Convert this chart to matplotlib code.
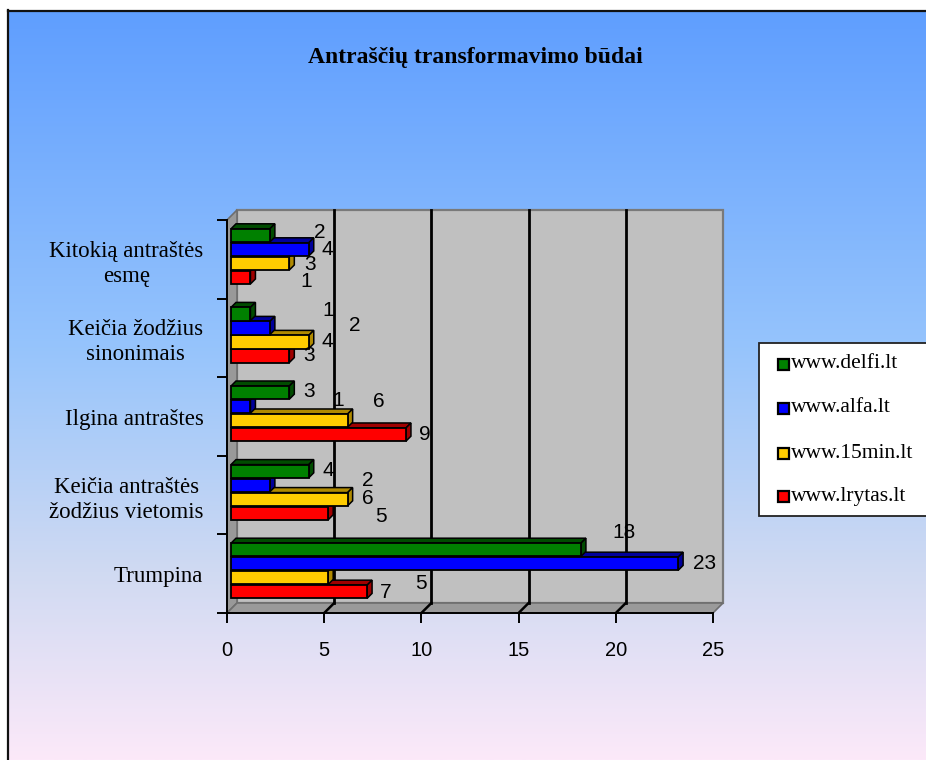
import numpy as np
import matplotlib
matplotlib.use("Agg")
import matplotlib.pyplot as plt
from matplotlib.patches import Rectangle, Polygon

# ---------------- data ----------------
categories = ["Kitokią antraštės\nesmę", "Keičia žodžius\nsinonimais", "Ilgina antraštes",
              "Keičia antraštės\nžodžius vietomis", "Trumpina"]          # top -> bottom
series_names = ["www.delfi.lt", "www.alfa.lt", "www.15min.lt", "www.lrytas.lt"]
delfi = [2, 1, 3, 4, 18]
alfa = [4, 2, 1, 2, 23]
min15 = [3, 4, 6, 6, 5]
lrytas = [1, 3, 9, 5, 7]
x_ticks = [0, 5, 10, 15, 20, 25]
title = "Antraščių transformavimo būdai"

# ---------------- style / layout ----------------
face_cols = ["#008000", "#0000FF", "#FFCC00", "#FF0000"]
dark_cols = ["#004C00", "#00009A", "#B08A00", "#A00000"]
# label nudges (pixels, dx, dy-down) mimicking the original data label placement
label_nudge = [
    [(30, -3), (58, -4), (0, -1), (0, -1), (23, -17)],   # delfi
    [(-1, 0), (65, -2), (68, -6), (78, -5), (6, 0)],      # alfa
    [(1, 1), (-1, 0), (11, -19), (0, -1), (73, 6)],       # 15min
    [(36, 4), (0, 0), (-1, 0), (33, 3), (-1, 1)],         # lrytas
]
SERIF = ["Liberation Serif", "DejaVu Serif"]
SANS = ["Liberation Sans", "DejaVu Sans"]

W, H, DPI = 926, 760, 100
fig = plt.figure(figsize=(W / DPI, H / DPI), dpi=DPI)
fig.patch.set_facecolor("white")

# background (gradient chart area) in pixel-like coordinates
bg = fig.add_axes([0, 0, 1, 1], zorder=-10)
stops_t = np.array([0.0, 0.45, 0.75, 1.0])
stops_c = np.array([[95, 158, 255], [150, 196, 252], [208, 218, 242], [252, 233, 249]]) / 255
t = np.linspace(0, 1, 400)
grad = np.stack([np.interp(t, stops_t, stops_c[:, c]) for c in range(3)], axis=-1)[:, None, :]
bg.imshow(grad, extent=[8, W + 5, H, 10.5], aspect="auto", interpolation="bilinear")
bg.plot([8, 8], [10, H], color="#111111", lw=1.6)
bg.plot([8, W], [10.5, 10.5], color="#111111", lw=1.6)
bg.set_xlim(0, W)
bg.set_ylim(H, 0)
bg.axis("off")

bg.text(475, 57, title, ha="center", va="center", fontsize=17, fontweight="bold",
        family=SERIF, color="black")

# legend (manual, like the original box that runs off the right edge)
bg.add_patch(Rectangle((759, 343), 200, 173, facecolor="white", edgecolor="#222222", lw=1.3))
leg_y = [364, 408, 453, 496]
for name, fc, yy in zip(series_names, face_cols, leg_y):
    bg.add_patch(Rectangle((778, yy - 5.5), 11, 11, facecolor=fc, edgecolor="black", lw=1.6))
    bg.text(791, yy, name, ha="left", va="center", fontsize=15.5, family=SERIF, color="black")

# ---------------- main axes (front plane) ----------------
x0p, x1p, y0p, y1p = 227, 713, 613, 220
ax = fig.add_axes([x0p / W, 1 - y0p / H, (x1p - x0p) / W, (y0p - y1p) / H])
xmax, ncat = 25, len(categories)
ax.set_xlim(0, xmax)
ax.set_ylim(0, ncat)
ax.patch.set_visible(False)
ux = xmax / (x1p - x0p)
uy = ncat / (y0p - y1p)

# walls
dw_x, dw_y = 10 * ux, 10 * uy
ax.add_patch(Rectangle((dw_x, dw_y), xmax, ncat, facecolor="#C0C0C0", edgecolor="#7A7A7A",
                       lw=1.6, zorder=0, clip_on=False))
ax.add_patch(Polygon([(0, 0), (dw_x, dw_y), (dw_x, ncat + dw_y), (0, ncat)], closed=True,
                     facecolor="#999999", edgecolor="#6E6E6E", lw=1.2, zorder=0.5, clip_on=False))
ax.add_patch(Polygon([(0, 0), (xmax, 0), (xmax + dw_x, dw_y), (dw_x, dw_y)], closed=True,
                     facecolor="#9A9A9A", edgecolor="#6E6E6E", lw=1.2, zorder=0.5, clip_on=False))
for v in x_ticks[1:-1]:
    ax.plot([v + dw_x, v + dw_x], [dw_y, ncat + dw_y], color="black", lw=2.0, zorder=0.6,
            clip_on=False)
    ax.plot([v, v + dw_x], [0, dw_y], color="black", lw=1.8, zorder=0.6, clip_on=False)

# bars (3-D look)
all_series = [delfi, alfa, min15, lrytas]
bar_off = [0.804, 0.626, 0.448, 0.27]     # position of each series inside a category band
hb = 0.168
bx0 = 4 * ux
dbx, dby = 5 * ux, 5 * uy
z = 2
for s in [3, 2, 1, 0]:                     # draw from bottom bar upwards
    vals = all_series[s]
    for k, v in enumerate(vals):
        base = ncat - 1 - k
        yc = base + bar_off[s]
        y0, y1 = yc - hb / 2, yc + hb / 2
        x1 = bx0 + v
        ax.add_patch(Polygon([(bx0, y1), (x1, y1), (x1 + dbx, y1 + dby), (bx0 + dbx, y1 + dby)],
                             closed=True, facecolor=dark_cols[s], edgecolor="black", lw=1.1,
                             zorder=z, clip_on=False))
        ax.add_patch(Polygon([(x1, y0), (x1 + dbx, y0 + dby), (x1 + dbx, y1 + dby), (x1, y1)],
                             closed=True, facecolor=dark_cols[s], edgecolor="black", lw=1.1,
                             zorder=z, clip_on=False))
        ax.add_patch(Rectangle((bx0, y0), v, hb, facecolor=face_cols[s], edgecolor="black",
                               lw=1.3, zorder=z + 0.1, clip_on=False))
        z += 0.2

# data labels
for s in range(4):
    for k, v in enumerate(all_series[s]):
        base = ncat - 1 - k
        yc = base + bar_off[s]
        ndx, ndy = label_nudge[s][k]
        ax.annotate(str(v), xy=(bx0 + v, yc), xytext=(20 + ndx, -ndy),
                    textcoords="offset pixels", ha="center", va="center",
                    fontsize=15, family=SANS, color="black", zorder=50,
                    annotation_clip=False)

# axes lines and ticks
for side in ["top", "right"]:
    ax.spines[side].set_visible(False)
for side in ["left", "bottom"]:
    ax.spines[side].set_color("black")
    ax.spines[side].set_linewidth(1.4)
    ax.spines[side].set_zorder(40)
ax.set_xticks(x_ticks)
ax.set_xticklabels([str(v) for v in x_ticks], fontsize=14.5, family=SANS)
ax.tick_params(axis="x", direction="out", length=7, width=1.4, pad=13, colors="black")
ax.set_yticks(np.arange(0, ncat + 1))
ax.set_yticklabels([])
ax.tick_params(axis="y", which="major", direction="out", length=7, width=1.4, colors="black")
ax.set_yticks(np.arange(ncat) + 0.5, minor=True)
ax.set_yticklabels(categories[::-1], minor=True, fontsize=16.5, family=SERIF,
                   multialignment="center", linespacing=1.25)
ax.tick_params(axis="y", which="minor", length=0, pad=17)

fig.savefig("out.png", dpi=DPI, facecolor="white")
